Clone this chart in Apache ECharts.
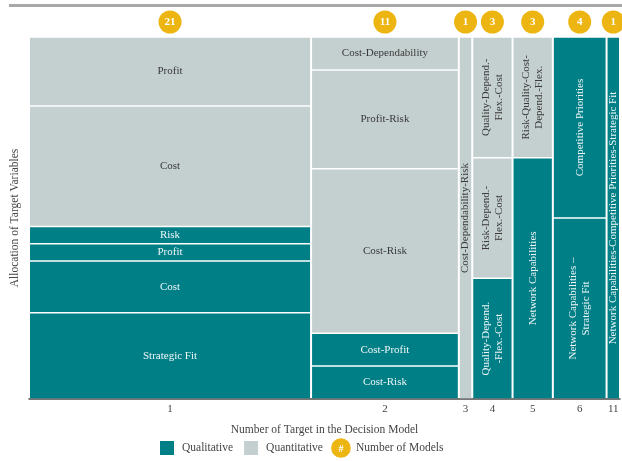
<!DOCTYPE html>
<html>
<head>
<meta charset="UTF-8">
<title>Allocation of Target Variables</title>
<style>
  html, body { margin: 0; padding: 0; background: #fff; }
  #chart { width: 622px; height: 461px; }
</style>
</head>
<body>
<div id="chart"></div>
<script src="https://cdn.jsdelivr.net/npm/echarts@6/dist/echarts.min.js"></script>
<script>
// columns: number of targets in the decision model, and how many models each has
var columnNames = ['1', '2', '3', '4', '5', '6', '11'];
var modelCounts = [21, 11, 1, 3, 3, 4, 1];

// segments, listed top to bottom within each column
var segColumn = [0, 0, 0, 0, 0, 0, 1, 1, 1, 1, 1, 2, 3, 3, 3, 4, 4, 5, 5, 6];
var segLabels = [
  'Profit', 'Cost', 'Risk', 'Profit', 'Cost', 'Strategic Fit',
  'Cost-Dependability', 'Profit-Risk', 'Cost-Risk', 'Cost-Profit', 'Cost-Risk',
  'Cost-Dependability-Risk',
  'Quality-Depend.-\nFlex.-Cost', 'Risk-Depend.-\nFlex.-Cost', 'Quality-Depend.\n-Flex.-Cost',
  'Risk-Quality-Cost-\nDepend.-Flex.', 'Network Capabilities',
  'Competitive Priorities', 'Network Capabilities \u2013\nStrategic Fit',
  'Network Capabilities-Competitive Priorities-Strategic Fit'
];
var segKinds = [
  'Quantitative', 'Quantitative', 'Qualitative', 'Qualitative', 'Qualitative', 'Qualitative',
  'Quantitative', 'Quantitative', 'Quantitative', 'Qualitative', 'Qualitative',
  'Quantitative',
  'Quantitative', 'Quantitative', 'Qualitative',
  'Quantitative', 'Qualitative',
  'Qualitative', 'Qualitative',
  'Qualitative'
];
var segCounts = [4, 7, 1, 1, 3, 5, 1, 3, 5, 1, 1, 1, 1, 1, 1, 1, 2, 2, 2, 1];

var colors = { Qualitative: '#007f87', Quantitative: '#c4cfcf' };
var textColors = { Qualitative: '#eef6f6', Quantitative: '#3a3a3a' };
var badgeColor = '#edb512';
var font = '"Liberation Serif", "DejaVu Serif", serif';

// cumulative positions
var colStart = [];
var acc = 0;
for (var i = 0; i < modelCounts.length; i++) { colStart.push(acc); acc += modelCounts[i]; }
var totalModels = acc;
var colCenters = colStart.map(function (s, i) { return s + modelCounts[i] / 2; });

var segStart = [];
var used = {};
for (var k = 0; k < segCounts.length; k++) {
  var c = segColumn[k];
  used[c] = used[c] || 0;
  segStart.push(used[c] / modelCounts[c]);
  used[c] += segCounts[k];
}

function segData(kind) {
  var res = [];
  for (var k = 0; k < segKinds.length; k++) {
    if (segKinds[k] == kind) {
      var c = segColumn[k];
      res.push([colStart[c], colStart[c] + modelCounts[c], segStart[k], segStart[k] + segCounts[k] / modelCounts[c], k]);
    }
  }
  return res;
}

function renderSeg(params, api) {
  var p0 = api.coord([api.value(0), api.value(2)]);
  var p1 = api.coord([api.value(1), api.value(3)]);
  var k = api.value(4);
  var kind = segKinds[k];
  var x = p0[0] + 1, y = p0[1] + 0.75;
  var w = p1[0] - p0[0] - 2, h = p1[1] - p0[1] - 1.5;
  var vertical = w < 60;
  return {
    type: 'group',
    children: [{
      type: 'rect',
      shape: { x: x, y: y, width: w, height: h },
      style: { fill: colors[kind] }
    }, {
      type: 'text',
      x: x + w / 2,
      y: y + h / 2,
      rotation: vertical ? Math.PI / 2 : 0,
      style: {
        text: segLabels[k],
        fill: textColors[kind],
        font: '11px ' + font,
        align: 'center',
        verticalAlign: 'middle',
        lineHeight: 13
      }
    }]
  };
}

function svgIcon(body) {
  return 'image://data:image/svg+xml;charset=utf-8,' + encodeURIComponent(
    '<svg xmlns="http://www.w3.org/2000/svg" width="40" height="40" viewBox="0 0 20 20">' + body + '</svg>');
}

var chart = echarts.init(document.getElementById('chart'));
chart.setOption({
  animation: false,
  textStyle: { fontFamily: font },
  grid: { left: 29, right: 2, top: 37, bottom: 62, outerBoundsMode: 'none', containLabel: false },
  graphic: [{
    type: 'rect',
    left: 9, top: 4,
    shape: { width: 613, height: 3 },
    style: { fill: '#a8a8a8' }
  }],
  legend: {
    bottom: 3,
    left: 157,
    padding: 0,
    itemWidth: 20,
    itemHeight: 20,
    itemGap: 8,
    textStyle: { fontFamily: font, fontSize: 11.5, color: '#444' },
    data: [
      { name: 'Qualitative', icon: svgIcon('<rect x="3" y="3" width="14" height="14" fill="' + colors.Qualitative + '"/>') },
      { name: 'Quantitative', icon: svgIcon('<rect x="3" y="3" width="14" height="14" fill="' + colors.Quantitative + '"/>') },
      { name: 'Number of Models', icon: svgIcon('<circle cx="10" cy="10" r="9.8" fill="' + badgeColor + '"/><text x="10" y="13.5" font-size="10" font-family="Liberation Serif" font-weight="bold" fill="#fff" text-anchor="middle">#</text>') }
    ]
  },
  xAxis: {
    type: 'value',
    position: 'bottom',
    min: 0,
    max: totalModels,
    splitLine: { show: false },
    axisLine: { show: true, onZero: false, lineStyle: { color: '#4a4a4a', width: 1.5 } },
    axisTick: { show: false },
    axisLabel: {
      customValues: colCenters,
      margin: 5,
      fontSize: 11,
      color: '#444',
      fontFamily: font,
      formatter: function (v) {
        for (var i = 0; i < colCenters.length; i++) if (Math.abs(colCenters[i] - v) < 1e-6) return columnNames[i];
        return '';
      }
    },
    name: 'Number of Target in the Decision Model',
    nameLocation: 'middle',
    nameGap: 25,
    nameTextStyle: { fontSize: 11.5, color: '#444', fontFamily: font }
  },
  yAxis: {
    type: 'value',
    min: 0,
    max: 1,
    inverse: true,
    splitLine: { show: false },
    axisLine: { show: false },
    axisTick: { show: false },
    axisLabel: { show: false },
    name: 'Allocation of Target Variables',
    nameLocation: 'middle',
    nameRotate: 90,
    nameGap: 8,
    nameTextStyle: { fontSize: 11.5, color: '#444', fontFamily: font }
  },
  series: [{
    name: 'Qualitative',
    type: 'custom',
    itemStyle: { color: colors.Qualitative },
    renderItem: renderSeg,
    data: segData('Qualitative')
  }, {
    name: 'Quantitative',
    type: 'custom',
    itemStyle: { color: colors.Quantitative },
    renderItem: renderSeg,
    data: segData('Quantitative')
  }, {
    name: 'Number of Models',
    type: 'scatter',
    clip: false,
    symbol: 'circle',
    symbolSize: 23,
    symbolOffset: [0, -15],
    itemStyle: { color: badgeColor, opacity: 1 },
    label: {
      show: true,
      position: 'inside',
      color: '#fff',
      fontWeight: 'bold',
      fontSize: 11,
      fontFamily: font,
      formatter: function (p) { return p.value[2]; }
    },
    data: colCenters.map(function (x, i) { return [x, 0, modelCounts[i]]; })
  }]
});
</script>
</body>
</html>
